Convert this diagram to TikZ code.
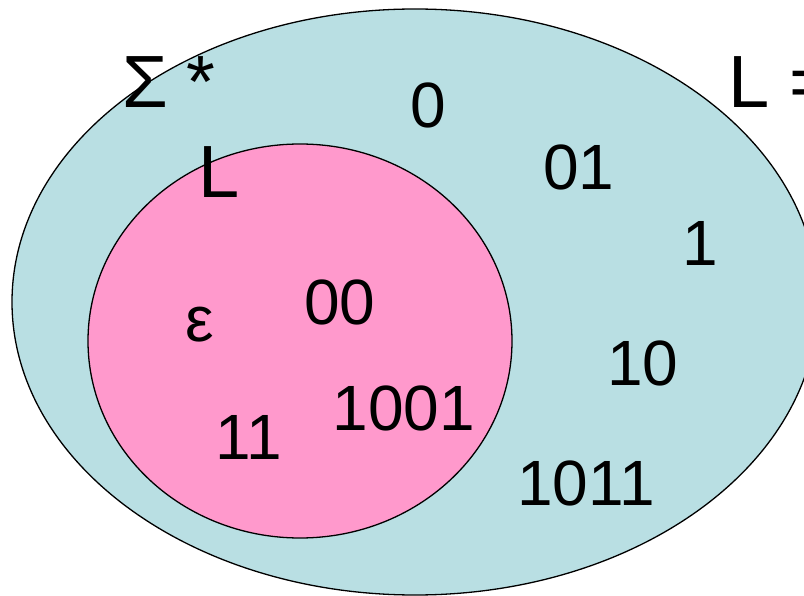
\documentclass[tikz,border=0pt]{standalone}
\usepackage{fontspec}
\setmainfont{Liberation Sans}
\definecolor{outerfill}{RGB}{185,223,227}
\definecolor{innerfill}{RGB}{255,153,204}
\begin{document}
\begin{tikzpicture}[x=1pt,y=-1pt,
  setline/.style={draw=black,line width=1.3pt},
  word/.style={inner sep=0pt,font=\fontsize{64}{70}\selectfont},
  setname/.style={inner sep=0pt,font=\fontsize{74}{80}\selectfont}]
\useasboundingbox (0,0) rectangle (804,596);
\clip (0,0) rectangle (804,596);
\draw[setline,fill=outerfill] (415,302) ellipse [x radius=403,y radius=293];
\draw[setline,fill=innerfill] (300,341) ellipse [x radius=212,y radius=197];
\node[setname] (sigma) at (169,82) {Σ\hspace{18pt}*};
\node[setname,anchor=west] (Lall) at (728,82) {L =};
\node[setname] (Lin) at (219,172) {L};
\node[word] (w0) at (428,105) {0};
\node[word] (w01) at (579,167) {01};
\node[word] (w1) at (700,243) {1};
\node[word] (w00) at (340,302) {00};
\node[word] (eps) at (200,325) {ε};
\node[word] (w10) at (643,363) {10};
\node[word] (w1001) at (404,408) {1001};
\node[word] (w11) at (249,437) {11};
\node[word] (w1011) at (586,483) {1011};
\end{tikzpicture}
\end{document}
